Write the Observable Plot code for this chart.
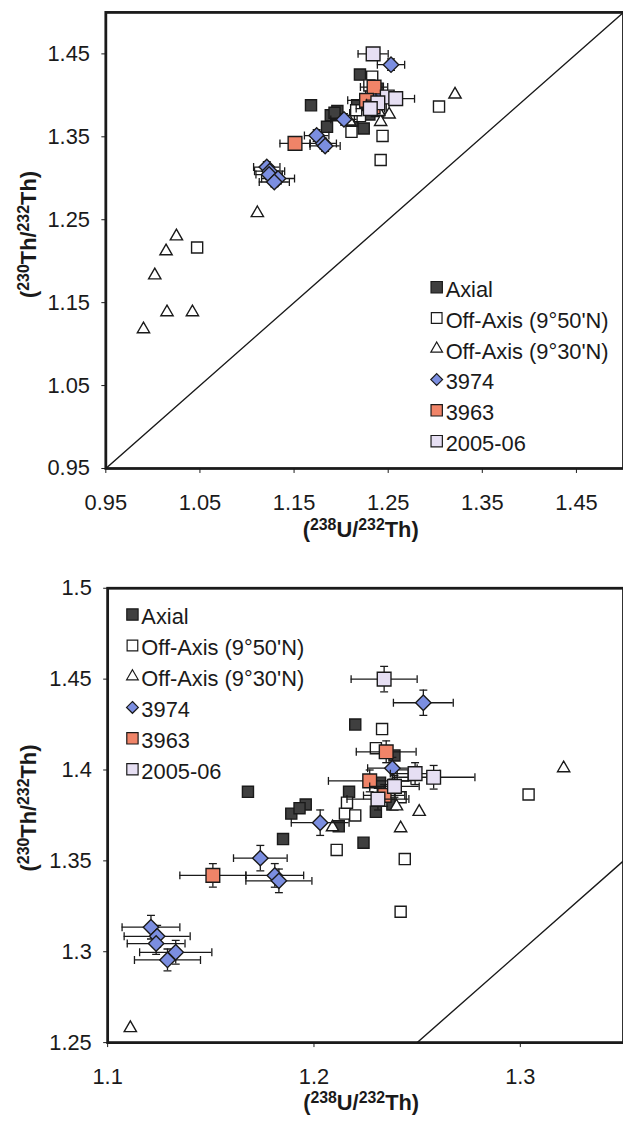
<!DOCTYPE html>
<html>
<head>
<meta charset="utf-8">
<script src="https://cdn.jsdelivr.net/npm/d3@7"></script>
<script src="https://cdn.jsdelivr.net/npm/@observablehq/plot@0.6"></script>
<style>
  html, body { margin: 0; padding: 0; background: #fff; overflow: hidden; }
  #charts svg { display: block; }
</style>
</head>
<body>
<div id="charts"></div>
<script>
// (238U/232Th) vs (230Th/232Th) activity ratios for each sample group.
// Groups with error bars are [x, y, xErr, yErr].
const axial = [
  [1.220, 1.425], [1.168, 1.388], [1.239, 1.408], [1.189, 1.376],
  [1.196, 1.381], [1.193, 1.379], [1.185, 1.362], [1.212, 1.369],
  [1.224, 1.360], [1.217, 1.388], [1.230, 1.377], [1.232, 1.393],
  [1.238, 1.381]
];
const offAxis950 = [
  [1.233, 1.4225], [1.230, 1.412], [1.304, 1.3865], [1.211, 1.356],
  [1.244, 1.351], [1.242, 1.322], [1.215, 1.376], [1.220, 1.375],
  [1.216, 1.382], [1.242, 1.385], [1.243, 1.397], [1.047, 1.2165]
];
const offAxis930 = [
  [1.321, 1.401], [1.251, 1.377], [1.242, 1.368], [1.240, 1.380],
  [1.209, 1.3685], [1.111, 1.258], [1.025, 1.230], [1.014, 1.212],
  [1.002, 1.183], [1.015, 1.1385], [1.042, 1.1385], [0.990, 1.118]
];
const dive3974 = [
  [1.253, 1.437, 0.0145, 0.007], [1.238, 1.401, 0.012, 0.006],
  [1.203, 1.371, 0.014, 0.007], [1.174, 1.3515, 0.013, 0.007],
  [1.181, 1.342, 0.014, 0.0065], [1.183, 1.339, 0.016, 0.0065],
  [1.121, 1.3135, 0.014, 0.0065], [1.124, 1.3085, 0.016, 0.006],
  [1.1235, 1.3045, 0.014, 0.006], [1.133, 1.2997, 0.0175, 0.0065],
  [1.129, 1.2955, 0.016, 0.006]
];
const dive3963 = [
  [1.151, 1.342, 0.016, 0.0065], [1.235, 1.410, 0.0145, 0.006],
  [1.227, 1.394, 0.020, 0.006], [1.234, 1.386, 0.010, 0.006]
];
const samples0506 = [
  [1.234, 1.450, 0.016, 0.007], [1.249, 1.398, 0.012, 0.006],
  [1.258, 1.396, 0.020, 0.0065], [1.239, 1.391, 0.012, 0.006],
  [1.231, 1.384, 0.015, 0.006]
];

const groupNames = ["Axial", "Off-Axis (9\u00b050'N)", "Off-Axis (9\u00b030'N)", "3974", "3963", "2005-06"];
const groups = [axial, offAxis950, offAxis930, dive3974, dive3963, samples0506];

const fullTicks = [0.95, 1.05, 1.15, 1.25, 1.35, 1.45];
const zoomXTicks = [1.1, 1.2, 1.3];
const zoomYTicks = [1.25, 1.3, 1.35, 1.4, 1.45, 1.5];
const equiline = [0.9, 1.6];

// marker styling per group
const ink = "#1a1a1a";
const looks = [
  {symbol: "square", fill: "#3f3f3f", r: 6.3, legendSize: 130},
  {symbol: "square", fill: "#ffffff", r: 6.3, legendSize: 115},
  {symbol: "triangle", fill: "#ffffff", r: 4.6, legendSize: 60},
  {symbol: "diamond2", fill: "#7b8ee0", r: 7, legendSize: 90},
  {symbol: "square", fill: "#f08468", r: 7.8, legendSize: 130},
  {symbol: "square", fill: "#e6dff3", r: 7.8, legendSize: 130}
];
const d3Symbols = {square: d3.symbolSquare, triangle: d3.symbolTriangle, diamond2: d3.symbolDiamond2};

const capV = {draw(ctx) { ctx.moveTo(0, -4); ctx.lineTo(0, 4); }};
const capH = {draw(ctx) { ctx.moveTo(-4, 0); ctx.lineTo(4, 0); }};

const font = "'Liberation Sans', Arial, Helvetica, sans-serif";

function scatter(opts) {
  const marks = [
    Plot.line(equiline.map(v => ({v})), {x: "v", y: "v", stroke: ink, strokeWidth: 1.4, clip: true})
  ];
  groups.forEach((g, k) => {
    const look = looks[k];
    const rows = g.map(([x, y, ex = 0, ey = 0]) => ({x, y, ex, ey}));
    if (rows.some(d => d.ex > 0)) {
      const bar = {stroke: ink, strokeWidth: 1.3, clip: true};
      marks.push(
        Plot.ruleY(rows, {x1: d => d.x - d.ex, x2: d => d.x + d.ex, y: "y", ...bar}),
        Plot.ruleX(rows, {x: "x", y1: d => d.y - d.ey, y2: d => d.y + d.ey, ...bar}),
        Plot.dot(rows, {x: d => d.x - d.ex, y: "y", symbol: capV, fill: "none", ...bar}),
        Plot.dot(rows, {x: d => d.x + d.ex, y: "y", symbol: capV, fill: "none", ...bar}),
        Plot.dot(rows, {x: "x", y: d => d.y - d.ey, symbol: capH, fill: "none", ...bar}),
        Plot.dot(rows, {x: "x", y: d => d.y + d.ey, symbol: capH, fill: "none", ...bar})
      );
    }
    marks.push(Plot.dot(rows, {
      x: "x", y: "y", symbol: look.symbol, r: look.r,
      fill: look.fill, stroke: ink, strokeWidth: 1.4, clip: true
    }));
  });
  marks.push(Plot.frame({stroke: ink, strokeWidth: 2.8}));

  const svg = Plot.plot({
    width: opts.width, height: opts.height,
    marginTop: opts.marginTop, marginBottom: opts.marginBottom,
    marginLeft: opts.marginLeft, marginRight: 0,
    style: {fontFamily: font, fontSize: "22px", color: ink, background: "#fff", overflow: "visible"},
    x: {domain: opts.xDomain, ticks: opts.xTicks, tickFormat: opts.xFormat, tickSize: 5, tickPadding: 21, label: null},
    y: {domain: opts.yDomain, ticks: opts.yTicks, tickFormat: opts.yFormat, tickSize: 4, tickPadding: 12, label: null},
    marks
  });

  const s = d3.select(svg);
  // tick labels at full size
  s.selectAll("text").style("font-size", "22px").style("font-family", font).attr("fill", ink);

  // axis titles with superscript isotope numbers
  function title(g, mass1, el1, mass2, el2) {
    g.append("tspan").text("(");
    g.append("tspan").attr("dy", -7).style("font-size", "16px").text(mass1);
    g.append("tspan").attr("dy", 7).text(el1 + "/");
    g.append("tspan").attr("dy", -7).style("font-size", "16px").text(mass2);
    g.append("tspan").attr("dy", 7).text(el2 + ")");
  }
  const xt = s.append("text")
    .attr("x", opts.xTitle[0]).attr("y", opts.xTitle[1])
    .attr("text-anchor", "middle").attr("font-weight", "bold")
    .style("font-size", "22px").attr("fill", ink);
  title(xt, "238", "U", "232", "Th");
  const yt = s.append("text")
    .attr("transform", `translate(${opts.yTitle[0]},${opts.yTitle[1]}) rotate(-90)`)
    .attr("text-anchor", "middle").attr("font-weight", "bold")
    .style("font-size", "22px").attr("fill", ink);
  title(yt, "230", "Th", "232", "Th");

  // legend
  const lg = s.append("g").attr("text-anchor", "start");
  groupNames.forEach((name, k) => {
    const base = opts.legend.y + k * opts.legend.step;
    lg.append("path")
      .attr("transform", `translate(${opts.legend.x},${base - 10})`)
      .attr("d", d3.symbol(d3Symbols[looks[k].symbol], looks[k].legendSize)())
      .attr("fill", looks[k].fill).attr("stroke", ink).attr("stroke-width", 1.2);
    lg.append("text")
      .attr("x", opts.legend.x + 9).attr("y", base)
      .attr("text-anchor", "start")
      .style("font-size", "22px").attr("fill", ink)
      .text(name);
  });
  return svg;
}

const host = document.getElementById("charts");

host.appendChild(scatter({
  width: 627, height: 562, marginTop: 12, marginBottom: 91, marginLeft: 106,
  xDomain: [0.95, 1.5], yDomain: [0.95, 1.5],
  xTicks: fullTicks, yTicks: fullTicks,
  xFormat: d3.format(".2f"), yFormat: d3.format(".2f"),
  xTitle: [363, 540], yTitle: [36, 236],
  legend: {x: 439.5, y: 299, step: 31}
}));

host.appendChild(scatter({
  width: 628, height: 562, marginTop: 30, marginBottom: 74, marginLeft: 108,
  xDomain: [1.1, 1.35], yDomain: [1.25, 1.5],
  xTicks: zoomXTicks, yTicks: zoomYTicks,
  xFormat: d3.format(".1f"), yFormat: d3.format("~g"),
  xTitle: [364, 556], yTitle: [36, 252],
  legend: {x: 133.5, y: 67, step: 31.2}
}));
</script>
</body>
</html>
